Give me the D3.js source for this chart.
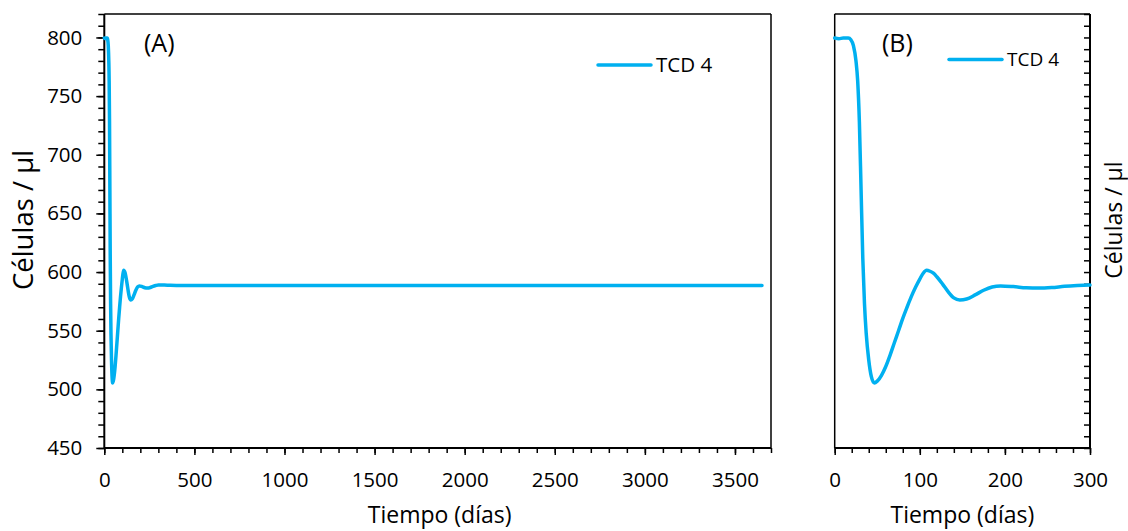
<!DOCTYPE html>
<html><head><meta charset="utf-8">
<script src="https://cdn.jsdelivr.net/npm/d3@7"></script>
<style>
html,body{margin:0;padding:0;background:#fff;}
svg text{font-family:"Open Sans",sans-serif;fill:#000;}
</style></head>
<body>
<svg id="c" width="1128" height="531"></svg>
<script>
// Data: CD4 T-cell count (cells/µl) over time (days)
const days  = [0, 5, 10, 16, 19, 22, 25, 27, 29, 31, 33, 35, 37, 40, 43, 46.5, 50, 55, 60, 65, 70, 75, 80, 85, 90, 95, 100, 104, 108, 112, 116, 120, 127, 133, 140, 147, 155, 165, 175, 185, 195, 210, 225, 240, 255, 270, 285, 300, 350, 400, 500, 1000, 1500, 2000, 2500, 3000, 3650];
const cells = [799.5, 799, 799.5, 799.5, 798, 793, 780, 763, 728, 670, 612, 573, 548, 525, 511, 505.5, 507, 512, 519.5, 529, 539.5, 550, 560.5, 570, 579, 587, 594, 599, 601.5, 600.7, 599, 596, 589.5, 583.5, 578, 576.2, 577, 580.5, 584.5, 587.3, 588.2, 587.6, 586.6, 586.3, 586.8, 587.8, 588.5, 589, 588.8, 588.6, 588.6, 588.6, 588.6, 588.6, 588.6, 588.6, 588.6];
const seriesName = "TCD 4";
const yTicks = [450, 500, 550, 600, 650, 700, 750, 800];
const xTicksA = [0, 500, 1000, 1500, 2000, 2500, 3000, 3500];
const xTicksB = [0, 100, 200, 300];
const panelLabels = ["(A)", "(B)"];
const xTitle = "Tiempo (días)";
const yTitle = "Células  / µl";

const color = "#00B0F0";
const svg = d3.select("#c");
const pts = days.map((d, i) => ({t: d, v: cells[i]}));

const y = d3.scaleLinear().domain([450, 820]).range([448, 14]);
const xA = d3.scaleLinear().domain([0, 3700]).range([104.3, 771]);
const xB = d3.scaleLinear().domain([0, 300]).range([834.7, 1090]);

const minorY = d3.range(450, 821, 10);

function frame(x, side) {
  const g = svg.append("g");
  const [x0, x1] = x.range();
  const [y0, y1] = [y.range()[0], y.range()[1]];
  g.append("line").attr("x1", x0).attr("x2", x1).attr("y1", y1).attr("y2", y1)
    .attr("stroke", "#000").attr("stroke-width", 1.5);
  const bx = side === "left" ? x1 : x0;
  g.append("line").attr("x1", bx).attr("x2", bx).attr("y1", y0).attr("y2", y1)
    .attr("stroke", "#000").attr("stroke-width", 1.5);
  return g;
}

function drawPanel(x, xTicks, xMinorStep, side, data, label, labelPos, legendPos, legendSize, ytSize, ytX, xtOff) {
  frame(x, side);
  const [x0, x1] = x.range();
  // x axis
  const xMinor = d3.range(x.domain()[0], x.domain()[1] + 0.001, xMinorStep);
  const gx = svg.append("g").attr("transform", `translate(0,${y.range()[0]})`);
  gx.call(d3.axisBottom(x).tickValues(xMinor).tickSize(5).tickFormat(""));
  gx.call(g => g.select(".domain").remove());
  gx.selectAll(".tick line").attr("stroke", "#000").attr("stroke-width", 1.5);
  const gx2 = svg.append("g").attr("transform", `translate(0,${y.range()[0]})`);
  gx2.call(d3.axisBottom(x).tickValues(xTicks).tickSize(7).tickPadding(17).tickFormat(d3.format("d")));
  gx2.select(".domain").attr("stroke", "#000").attr("stroke-width", 2).attr("d", `M${x0},0H${x1}`);
  gx2.selectAll(".tick line").attr("stroke", "#000").attr("stroke-width", 1.5);
  gx2.selectAll(".tick text").attr("font-size", 20.5).attr("font-family", "Open Sans");

  // y axis
  if (side === "left") {
    const gy = svg.append("g").attr("transform", `translate(${x0},0)`);
    gy.call(d3.axisLeft(y).tickValues(minorY).tickSize(6).tickFormat(""));
    gy.select(".domain").remove();
    gy.selectAll(".tick line").attr("stroke", "#000").attr("stroke-width", 1.5);
    const gy2 = svg.append("g").attr("transform", `translate(${x0},0)`);
    gy2.call(d3.axisLeft(y).tickValues(yTicks).tickSize(8).tickPadding(14).tickFormat(d3.format("d")));
    gy2.select(".domain").attr("stroke", "#000").attr("stroke-width", 2).attr("d", `M0,${y.range()[0]}V${y.range()[1]}`);
    gy2.selectAll(".tick line").attr("stroke", "#000").attr("stroke-width", 1.5);
    gy2.selectAll(".tick text").attr("font-size", 20.5).attr("font-family", "Open Sans");
  } else {
    const gy = svg.append("g").attr("transform", `translate(${x1},0)`);
    gy.call(d3.axisLeft(y).tickValues(minorY).tickSize(6).tickFormat(""));
    gy.select(".domain").attr("stroke", "#000").attr("stroke-width", 2).attr("d", `M0,${y.range()[0]}V${y.range()[1]}`);
    gy.selectAll(".tick line").attr("stroke", "#000").attr("stroke-width", 1.5);
  }

  // line
  const line = d3.line().x(d => x(d.t)).y(d => y(d.v)).curve(d3.curveMonotoneX);
  svg.append("path").datum(data).attr("d", line)
    .attr("fill", "none").attr("stroke", color).attr("stroke-width", 3.5)
    .attr("stroke-linejoin", "round").attr("stroke-linecap", "round");

  // panel label
  svg.append("text").attr("x", labelPos[0]).attr("y", labelPos[1])
    .attr("font-size", 25).text(label);

  // legend
  svg.append("line").attr("x1", legendPos[0]).attr("x2", legendPos[0] + 53)
    .attr("y1", legendPos[1]).attr("y2", legendPos[1])
    .attr("stroke", color).attr("stroke-width", 3.5).attr("stroke-linecap", "round");
  svg.append("text").attr("x", legendPos[0] + 58).attr("y", legendPos[1])
    .attr("dy", "0.35em").attr("font-size", legendSize).text(seriesName);

  // x title
  svg.append("text").attr("x", (x0 + x1) / 2 + xtOff).attr("y", 523)
    .attr("text-anchor", "middle").attr("font-size", 23).text(xTitle);

  // y title
  svg.append("text").attr("transform", `translate(${ytX},220) rotate(-90)`)
    .attr("text-anchor", "middle").attr("font-size", ytSize).text(yTitle);
}

drawPanel(xA, xTicksA, 100, "left", pts, panelLabels[0], [144, 52], [598, 65], 20.5, 27.5, 33, 2);
drawPanel(xB, xTicksB, 20, "right", pts.filter(d => d.t <= 300), panelLabels[1], [882, 52], [949, 59.5], 19, 23, 1122, 0);
</script>
</body></html>
